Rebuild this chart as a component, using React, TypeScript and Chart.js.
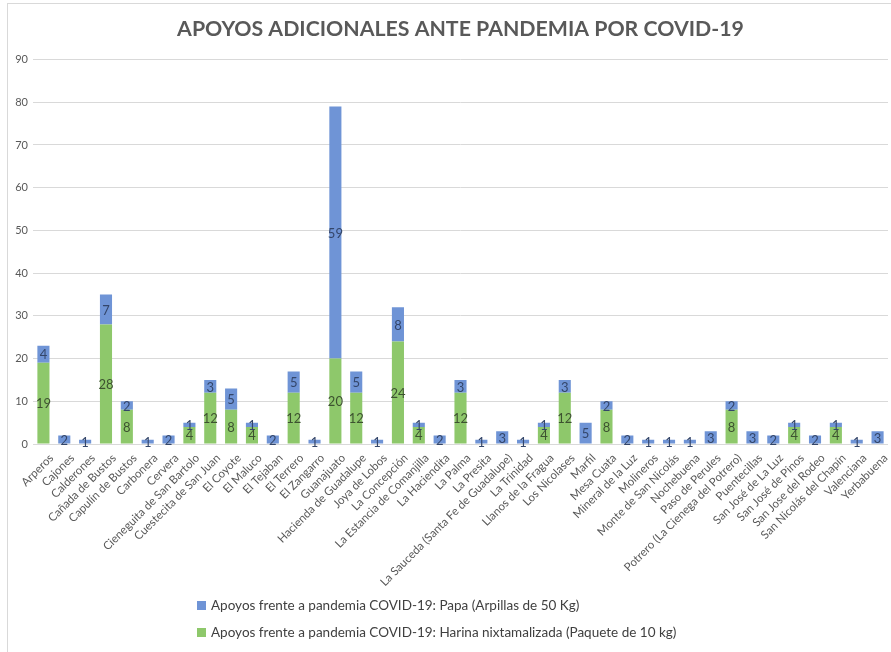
import React, { useEffect, useRef } from "react";
import { Chart, registerables } from "chart.js";

Chart.register(...registerables);

const categories = [
  "Arperos", "Cajones", "Calderones", "Cañada de Bustos", "Capulín de Bustos", "Carbonera", "Cervera",
  "Cieneguita de San Bartolo", "Cuestecita de San Juan", "El Coyote", "El Maluco", "El Tejaban", "El Terrero",
  "El Zangarro", "Guanajuato", "Hacienda de Guadalupe", "Joya de Lobos", "La Concepción",
  "La Estancia de Comanjilla", "La Haciendita", "La Palma", "La Presita", "La Sauceda (Santa Fe de Guadalupe)",
  "La Trinidad", "Llanos de la Fragua", "Los Nicolases", "Marfil", "Mesa Cuata", "Mineral de la Luz",
  "Molineros", "Monte de San Nicolás", "Nochebuena", "Paso de Perules", "Potrero (La Cienega del Potrero)",
  "Puentecillas", "San José de La Luz", "San José de Pinos", "San Jose del Rodeo", "San Nicolás del Chapín",
  "Valenciana", "Yerbabuena",
];

const harina = [
  19, 0, 0, 28, 8, 0, 0, 4, 12, 8, 4, 0, 12, 0, 20, 12, 0, 24, 4, 0, 12, 0, 0, 0, 4, 12, 0, 8, 0, 0, 0, 0, 0, 8,
  0, 0, 4, 0, 4, 0, 0,
];

const papa = [
  4, 2, 1, 7, 2, 1, 2, 1, 3, 5, 1, 2, 5, 1, 59, 5, 1, 8, 1, 2, 3, 1, 3, 1, 1, 3, 5, 2, 2, 1, 1, 1, 3, 2, 3, 2, 1,
  2, 1, 1, 3,
];

const yTicks = [0, 10, 20, 30, 40, 50, 60, 70, 80, 90];

const titleText = "APOYOS ADICIONALES ANTE PANDEMIA POR COVID-19";
const papaLabel = "Apoyos frente a pandemia COVID-19: Papa (Arpillas de 50 Kg)";
const harinaLabel = "Apoyos frente a pandemia COVID-19: Harina nixtamalizada (Paquete de 10 kg)";

const BLUE = "#6f94d6";
const GREEN = "#8ec86b";
const FONT = "Lato, 'Open Sans', sans-serif";

const valueLabels = {
  id: "valueLabels",
  afterDatasetsDraw(chart: any) {
    const ctx = chart.ctx;
    ctx.save();
    ctx.font = `13px ${FONT}`;
    ctx.textAlign = "center";
    ctx.textBaseline = "middle";
    chart.data.datasets.forEach((ds: any, di: number) => {
      const meta = chart.getDatasetMeta(di);
      ctx.fillStyle = ds.labelColor;
      meta.data.forEach((el: any, i: number) => {
        const v = ds.data[i];
        if (!v) return;
        const y = (el.y + el.base) / 2;
        ctx.fillText(String(v), el.x, y + 1);
      });
    });
    ctx.restore();
  },
};

const rotatedXLabels = {
  id: "rotatedXLabels",
  afterDraw(chart: any) {
    const ctx = chart.ctx;
    const xs = chart.scales.x;
    ctx.save();
    ctx.font = `11.5px ${FONT}`;
    ctx.fillStyle = "#595959";
    ctx.textAlign = "right";
    ctx.textBaseline = "top";
    (chart.data.labels as string[]).forEach((lab, i) => {
      const x = xs.getPixelForTick(i);
      ctx.save();
      ctx.translate(x + 4, xs.top + 8);
      ctx.rotate(-Math.PI / 4);
      ctx.fillText(lab, 0, 0);
      ctx.restore();
    });
    ctx.restore();
  },
};

const customLegend = {
  id: "customLegend",
  afterDraw(chart: any) {
    const ctx = chart.ctx;
    ctx.save();
    const items = [...chart.data.datasets].reverse();
    ctx.font = `13.5px ${FONT}`;
    ctx.textBaseline = "middle";
    ctx.textAlign = "left";
    items.forEach((ds: any, k: number) => {
      const y = 606 + k * 27;
      ctx.fillStyle = ds.backgroundColor;
      ctx.fillRect(197, y - 5, 9, 9);
      ctx.fillStyle = "#404040";
      ctx.fillText(ds.label, 211, y);
    });
    ctx.restore();
  },
};

export default function App() {
  const ref = useRef<HTMLCanvasElement>(null);
  useEffect(() => {
    document.body.style.margin = "0";
    const chart = new Chart(ref.current!, {
      type: "bar",
      data: {
        labels: categories,
        datasets: [
          { label: harinaLabel, data: harina, backgroundColor: GREEN, labelColor: "#3d5230" } as any,
          { label: papaLabel, data: papa, backgroundColor: BLUE, labelColor: "#34466a" } as any,
        ],
      },
      options: {
        responsive: false,
        animation: false,
        layout: { padding: { left: 0, right: 3, top: 0, bottom: 68 } },
        datasets: { bar: { categoryPercentage: 1, barPercentage: 0.58 } },
        plugins: {
          legend: { display: false },
          tooltip: { enabled: false },
          title: {
            display: true,
            fullSize: false,
            text: titleText,
            color: "#595959",
            font: { family: FONT, size: 21.3, weight: "bold" },
            padding: { top: 16, bottom: 18 },
          },
        },
        scales: {
          x: {
            stacked: true,
            grid: { display: false },
            border: { display: false },
            ticks: { display: false, autoSkip: false },
            afterFit: (s: any) => {
              s.height = 140;
            },
          },
          y: {
            stacked: true,
            min: 0,
            max: 90,
            afterBuildTicks: (s: any) => {
              s.ticks = yTicks.map((v) => ({ value: v }));
            },
            grid: { color: "#d9d9d9", drawTicks: false },
            border: { display: false },
            ticks: {
              color: "#595959",
              font: { family: FONT, size: 11 },
              padding: 5,
            },
            afterFit: (s: any) => {
              s.width = 33;
            },
          },
        },
      },
      plugins: [valueLabels, rotatedXLabels, customLegend],
    });
    return () => chart.destroy();
  }, []);
  return (
    <div style={{ position: "relative", width: 891, height: 652, background: "#fff" }}>
      <div
        style={{
          position: "absolute",
          left: 7,
          top: 3,
          width: 900,
          height: 660,
          border: "1px solid #d9d9d9",
          pointerEvents: "none",
        }}
      />
      <canvas ref={ref} width={891} height={652} style={{ position: "absolute", left: 0, top: 0 }} />
    </div>
  );
}
